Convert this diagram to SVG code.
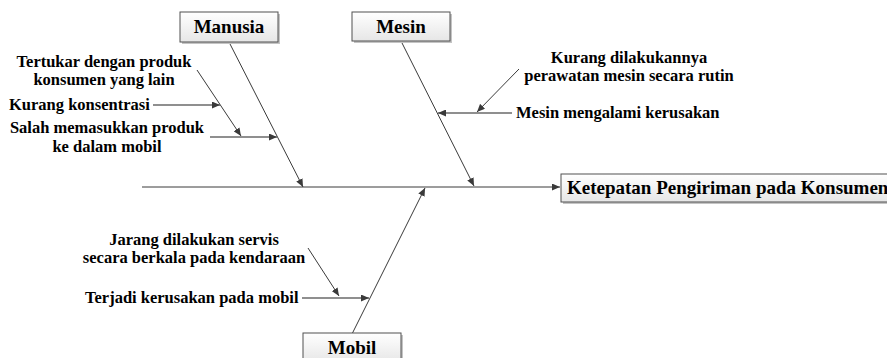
<svg xmlns="http://www.w3.org/2000/svg" width="887" height="358" viewBox="0 0 887 358">
  <defs>
    <linearGradient id="boxFill" x1="0" y1="0" x2="0" y2="1">
      <stop offset="0" stop-color="#ffffff"/>
      <stop offset="1" stop-color="#e6e6e6"/>
    </linearGradient>
    <marker id="arrow" viewBox="0 0 8 7" refX="8" refY="3.5" markerWidth="8" markerHeight="7" markerUnits="userSpaceOnUse" orient="auto">
      <path d="M0,0 L8,3.5 L0,7 z" fill="#3a3a3a"/>
    </marker>
    <style>
      .box { fill: url(#boxFill); stroke: #505050; stroke-width: 1; }
      .shadow { fill: #c4c4c4; }
      text { font-family: 'Liberation Serif', 'DejaVu Serif', serif; font-weight: bold; fill: #000; }
      .title { font-size: 19px; text-anchor: middle; }
      .cause { font-size: 16.5px; }
      .mid { text-anchor: middle; }
      .bone { stroke: #3a3a3a; stroke-width: 1; fill: none; marker-end: url(#arrow); }
      .twig { stroke: #6a6a6a; stroke-width: 1.4; fill: none; marker-end: url(#arrow); }
      .diag { stroke: #3a3a3a; stroke-width: 1; fill: none; marker-end: url(#arrow); }
    </style>
  </defs>

  <rect width="887" height="358" fill="#ffffff"/>

  <!-- spine, bones and cause arrows -->
  <g id="connectors">
    <line class="bone" x1="142" y1="187" x2="560" y2="187"/>
    <line class="bone" x1="229" y1="42" x2="303" y2="187"/>
    <line class="bone" x1="401" y1="41" x2="474" y2="186"/>
    <line class="bone" x1="352" y1="334" x2="425" y2="188"/>

    <line class="diag" x1="197" y1="70" x2="241" y2="136"/>
    <line class="twig" x1="153" y1="105" x2="220" y2="105"/>
    <line class="twig" x1="210" y1="137" x2="277" y2="137"/>

    <line class="diag" x1="519" y1="69" x2="477" y2="112"/>
    <line class="twig" x1="512" y1="113" x2="438" y2="113"/>

    <line class="diag" x1="308" y1="248" x2="339" y2="296"/>
    <line class="twig" x1="302" y1="298" x2="369" y2="298"/>
  </g>

  <!-- effect -->
  <g id="effect">
    <rect class="shadow" x="563" y="176" width="340" height="28"/>
    <rect class="box" x="561" y="174" width="340" height="28"/>
    <text font-size="19" x="567" y="194">Ketepatan Pengiriman pada Konsumen</text>
  </g>

  <!-- category boxes -->
  <g id="manusia">
    <rect class="shadow" x="182" y="14" width="98" height="30"/>
    <rect class="box" x="180" y="12" width="98" height="30"/>
    <text class="title" x="229" y="33">Manusia</text>
  </g>
  <g id="mesin">
    <rect class="shadow" x="354" y="14" width="98" height="29"/>
    <rect class="box" x="352" y="12" width="98" height="29"/>
    <text class="title" x="401" y="33">Mesin</text>
  </g>
  <g id="mobil">
    <rect class="shadow" x="305" y="335" width="98" height="30"/>
    <rect class="box" x="303" y="333" width="98" height="30"/>
    <text class="title" x="352" y="354">Mobil</text>
  </g>

  <!-- causes: Manusia -->
  <g id="cause-tertukar">
    <text class="cause mid" x="104" y="67">Tertukar dengan produk</text>
    <text class="cause mid" x="104" y="85">konsumen yang lain</text>
  </g>
  <g id="cause-konsentrasi">
    <text class="cause" x="9" y="110">Kurang konsentrasi</text>
  </g>
  <g id="cause-salah">
    <text class="cause mid" x="107" y="133">Salah memasukkan produk</text>
    <text class="cause mid" x="107" y="152">ke dalam mobil</text>
  </g>

  <!-- causes: Mesin -->
  <g id="cause-perawatan">
    <text class="cause mid" x="629" y="63">Kurang dilakukannya</text>
    <text class="cause mid" x="629" y="81">perawatan mesin secara rutin</text>
  </g>
  <g id="cause-kerusakan-mesin">
    <text class="cause" x="516" y="118">Mesin mengalami kerusakan</text>
  </g>

  <!-- causes: Mobil -->
  <g id="cause-servis">
    <text class="cause mid" x="194" y="245">Jarang dilakukan servis</text>
    <text class="cause mid" x="194" y="263">secara berkala pada kendaraan</text>
  </g>
  <g id="cause-kerusakan-mobil">
    <text class="cause" x="85" y="303">Terjadi kerusakan pada mobil</text>
  </g>
</svg>
